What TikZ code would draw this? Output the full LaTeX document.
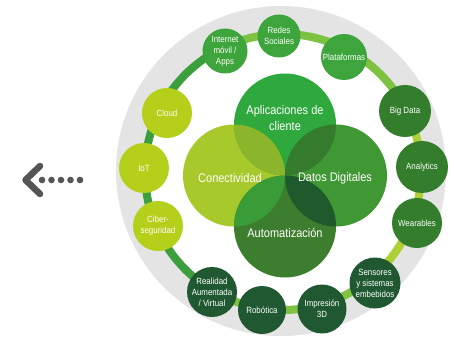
\documentclass[tikz,border=0pt]{standalone}
\usepackage{fontspec}
\newfontfamily\labelfont[FakeStretch=0.88]{Liberation Sans}
\usetikzlibrary{calc, math}
\definecolor{diskgray}{RGB}{228,228,228}
\definecolor{arrowgray}{RGB}{85,85,85}
\definecolor{aplgreen}{RGB}{47,169,62}
\definecolor{congreen}{RGB}{167,201,43}
\definecolor{datgreen}{RGB}{64,152,52}
\definecolor{autgreen}{RGB}{60,126,45}
\definecolor{lensTL}{RGB}{139,181,43}
\definecolor{lensTR}{RGB}{53,123,46}
\definecolor{lensLB}{RGB}{58,156,55}
\definecolor{lensRB}{RGB}{30,90,43}
\definecolor{ringyellow}{RGB}{180,208,26}
\definecolor{ringbright}{RGB}{62,165,61}
\definecolor{ringmid}{RGB}{51,125,44}
\definecolor{ringdark}{RGB}{31,88,49}
\definecolor{bandA}{RGB}{60,159,62}
\definecolor{bandB}{RGB}{126,194,66}
\definecolor{bandC}{RGB}{172,208,54}

\tikzset{
  ringnode/.style={circle, inner sep=0pt, minimum size=#1, text=white, align=center,
    font=\labelfont\fontsize{9}{11}\selectfont},
  ringnode/.default=48pt,
  vennlabel/.style={text=white, align=center, font=\labelfont\fontsize{12.5}{16}\selectfont},
  band/.style={line width=8pt},
}

\begin{document}
\begin{tikzpicture}[x=1pt,y=1pt]
\tikzmath{
\R=138;
\r=51;
}
\useasboundingbox (0,0) rectangle (454,351);

% gray disc behind the ring
\coordinate (ring) at (283,179);
\fill[diskgray] (281,180) circle[radius=165];
\fill[white] (ring) circle[radius=\R-4];

% ring band
\draw[band, bandA] ($(ring)+(116:\R)$) arc[start angle=116, end angle=239, radius=\R];
\draw[band, bandB] ($(ring)+(239:\R)$) arc[start angle=239, end angle=310, radius=\R];
\draw[band, bandC] ($(ring)+(310:\R)$) arc[start angle=310, end angle=390, radius=\R];
\draw[band, bandB] ($(ring)+(30:\R)$) arc[start angle=30, end angle=116, radius=\R];

% venn circles
\coordinate (aplc) at (285,226.5);
\coordinate (conc) at (234,175.5);
\coordinate (datc) at (336,175.5);
\coordinate (autc) at (285,124.5);
\fill[congreen] (conc) circle[radius=\r];
\fill[aplgreen] (aplc) circle[radius=\r];
\fill[datgreen] (datc) circle[radius=\r];
\fill[autgreen] (autc) circle[radius=\r];
\begin{scope}
  \clip (aplc) circle[radius=\r];
  \fill[lensTL] (conc) circle[radius=\r];
  \fill[lensTR] (datc) circle[radius=\r];
\end{scope}
\begin{scope}
  \clip (autc) circle[radius=\r];
  \fill[lensLB] (conc) circle[radius=\r];
  \fill[lensRB] (datc) circle[radius=\r];
\end{scope}
\node[vennlabel] (apl) at (285,233) {Aplicaciones de\\cliente};
\node[vennlabel] (con) at (230,173) {Conectividad};
\node[vennlabel] (dat) at (335,173) {Datos Digitales};
\node[vennlabel] (aut) at (285,118) {Automatización};

% ring of technologies
\node[ringnode=45pt, fill=ringbright] (internet) at (225,300) {Internet\\móvil /\\Apps};
\node[ringnode=43pt, fill=ringbright] (redes) at (279,315) {Redes\\Sociales};
\node[ringnode=46pt, fill=ringbright] (plataformas) at (344,294) {Plataformas};
\node[ringnode=52pt, fill=ringmid] (bigdata) at (405,240) {Big Data};
\node[ringnode=52pt, fill=ringmid] (analytics) at (422,184) {Analytics};
\node[ringnode=50pt, fill=ringmid] (wearables) at (417,128) {Wearables};
\node[ringnode=51pt, fill=ringdark] (sensores) at (375,68) {Sensores\\y sistemas\\embebidos};
\node[ringnode=49pt, fill=ringdark] (impresion) at (322,42) {Impresión\\3D};
\node[ringnode=48pt, fill=ringdark] (robotica) at (262,41) {Robótica};
\node[ringnode=50pt, fill=ringdark] (realidad) at (212,59) {Realidad\\Aumentada\\/ Virtual};
\node[ringnode=50pt, fill=ringyellow] (ciber) at (158,125) {Ciber-\\seguridad};
\node[ringnode=50pt, fill=ringyellow] (iot) at (144,183) {IoT};
\node[ringnode=50pt, fill=ringyellow] (cloud) at (167,238) {Cloud};

% dotted arrow on the left
\draw[line width=6.5pt, line cap=round, line join=round, arrowgray] (40,185) -- (25.5,171) -- (40,157);
\foreach \x in {42,51.5,61,70.5,80}
  \fill[arrowgray] (\x,171) circle[radius=3.3];

\end{tikzpicture}
\end{document}
